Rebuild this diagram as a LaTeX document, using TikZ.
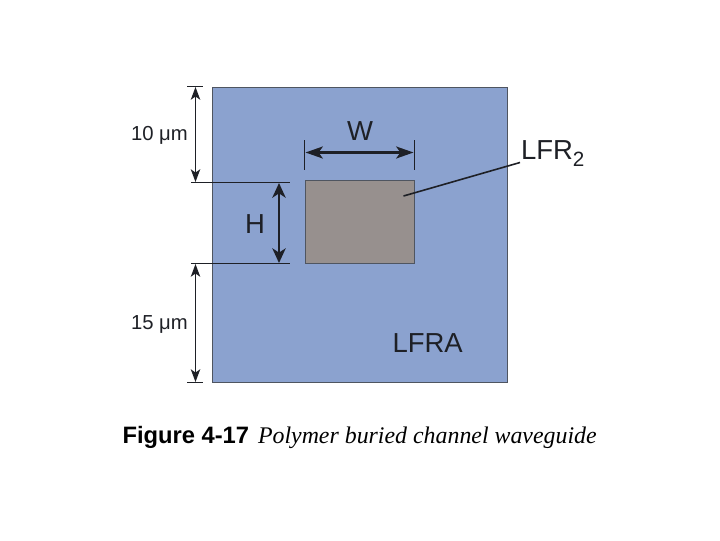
\documentclass[tikz,border=0pt]{standalone}
\usepackage{fontspec}
\setmainfont{Liberation Sans}
\newfontfamily\timesfont{Liberation Serif}
\usetikzlibrary{arrows.meta}
\definecolor{cladblue}{HTML}{8BA2CF}
\definecolor{coregray}{HTML}{97908E}
\definecolor{edgegray}{HTML}{4F5560}
\definecolor{inkdark}{HTML}{1E2026}
\tikzset{
  x=0.75pt,y=-0.75pt,
  block/.style={draw=edgegray,line width=0.7pt,inner sep=0pt,outer sep=0pt,anchor=north west},
  dimline/.style={draw=inkdark,line width=1.2pt},
  thindim/.style={dimline,{Stealth[length=9.5pt,width=7pt,inset=2.4pt]}-{Stealth[length=9.5pt,width=7pt,inset=2.4pt]}},
  thickdim/.style={dimline,line width=1.7pt,{Stealth[length=11pt,width=10pt,inset=3.2pt]}-{Stealth[length=11pt,width=10pt,inset=3.2pt]}},
  widedim/.style={dimline,line width=1.7pt,{Stealth[length=13pt,width=9pt,inset=3.2pt]}-{Stealth[length=13pt,width=9pt,inset=3.2pt]}},
  rule/.style={dimline,line width=1.3pt},
  lab/.style={inner sep=0pt,outer sep=0pt,text=inkdark},
  smalllab/.style={lab,font=\fontsize{15.2}{17}\selectfont},
  biglab/.style={lab,font=\fontsize{20.6}{24}\selectfont},
}
\begin{document}
\begin{tikzpicture}
\useasboundingbox (0,0) rectangle (720,540);
\fill[white] (0,0) rectangle (720,540);
\node[block,fill=cladblue,minimum width=221.6pt,minimum height=221.6pt] (clad) at (212,87) {};
\node[block,fill=coregray,minimum width=81.8pt,minimum height=62.3pt] (core) at (305.5,180.5) {};
% tick coordinates
\coordinate (t1a) at (187,86.5); \coordinate (t1b) at (203,86.5);
\coordinate (t2a) at (191,182.5); \coordinate (t2b) at (290,182.5);
\coordinate (t3a) at (191,263.5); \coordinate (t3b) at (290,263.5);
\coordinate (t4a) at (187,382.5); \coordinate (t4b) at (203,382.5);
\coordinate (wla) at (304.5,140); \coordinate (wlb) at (304.5,170);
\coordinate (wra) at (414.5,140); \coordinate (wrb) at (414.5,170);
\draw[rule] (t1a) -- (t1b);
\draw[rule] (t2a) -- (t2b);
\draw[rule] (t3a) -- (t3b);
\draw[rule] (t4a) -- (t4b);
\draw[rule] (wla) -- (wlb);
\draw[rule] (wra) -- (wrb);
\coordinate (a1) at (195.5,87); \coordinate (a2) at (195.5,182);
\coordinate (a3) at (195.5,264); \coordinate (a4) at (195.5,382);
\coordinate (h1) at (279,183); \coordinate (h2) at (279,263);
\coordinate (w1) at (305.5,152.5); \coordinate (w2) at (413.5,152.5);
\draw[thindim] (a1) -- (a2);
\draw[thindim] (a3) -- (a4);
\draw[thickdim] (h1) -- (h2);
\draw[widedim] (w1) -- (w2);
\node[smalllab,anchor=base west] (ten) at (131,140) {10 μm};
\node[smalllab,anchor=base west] (fif) at (131,329) {15 μm};
\node[biglab,anchor=base] (H) at (255,233) {H};
\node[biglab,anchor=base] (W) at (360,140) {W};
\node[biglab,anchor=base west] (lfr) at (521,159) {LFR\raisebox{-5.5pt}{\fontsize{15.5}{16}\selectfont 2}};
\node[biglab,anchor=base west] (lfra) at (392.5,352.5) {LFRA};
\coordinate (lead) at (403.5,196);
\coordinate (leadb) at (520,162.5);
\draw[rule,line width=1.2pt] (lead) -- (leadb);
\node[lab,anchor=base west,text=black,font=\fontsize{17.8}{20}\selectfont\bfseries] (cap) at (122.5,443) {Figure 4-17};
\node[lab,anchor=base west,text=black,font=\fontsize{17.9}{20}\selectfont\timesfont\itshape] (captxt) at (258,443) {Polymer buried channel waveguide};
\end{tikzpicture}
\end{document}
